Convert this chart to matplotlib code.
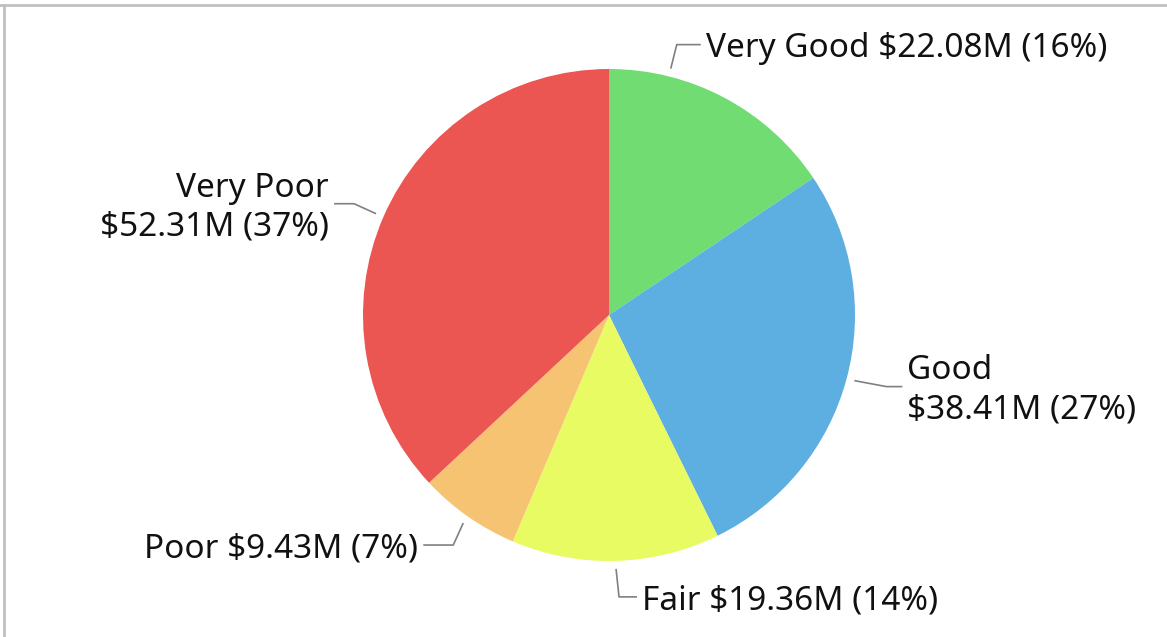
import numpy as np
import matplotlib
matplotlib.use('Agg')
import matplotlib.pyplot as plt
from matplotlib.lines import Line2D

# Data
categories = ['Very Good', 'Good', 'Fair', 'Poor', 'Very Poor']
values = [22.08, 38.41, 19.36, 9.43, 52.31]  # $M
percents = [16, 27, 14, 7, 37]
colors = ['#70dc72', '#5daee1', '#e9fb62', '#f6c373', '#eb5552']

W, H = 1167, 637
fig = plt.figure(figsize=(W / 100, H / 100), dpi=100)
ax = fig.add_axes([0, 0, 1, 1])

# pie geometry in pixels (y measured from the bottom)
cx, cy, R = 609, H - 315, 246
wedges, _ = ax.pie(values, colors=colors, startangle=90, counterclock=False,
                   center=(cx, cy), radius=R, frame=True,
                   wedgeprops=dict(linewidth=0))
ax.set_xlim(0, W)
ax.set_ylim(0, H)
ax.set_aspect('equal')
ax.axis('off')

plt.rcParams['font.family'] = ['Noto Sans', 'DejaVu Sans']
fs = 24
lc = '#808080'

# label layout: (angle offset, elbow dx, elbow dy, tail dx, format, ha)
layout = {
    'Very Good': (14, 6, 24, 24, '{c} ${v:.2f}M ({p}%)', 'left'),
    'Good': (0, 32, -6, 16, '{c}\n${v:.2f}M ({p}%)', 'left'),
    'Fair': (0, 3, -28, 18, '{c} ${v:.2f}M ({p}%)', 'left'),
    'Poor': (0, -10, -22, -30, '{c} ${v:.2f}M ({p}%)', 'right'),
    'Very Poor': (0, -22, 10, -20, '{c}\n${v:.2f}M ({p}%)', 'right'),
}

for w, c, v, p in zip(wedges, categories, values, percents):
    off, ex, ey, tx, fmt, ha = layout[c]
    ang = np.deg2rad((w.theta1 + w.theta2) / 2 + off)
    x0 = cx + (R + 8) * np.cos(ang)
    y0 = cy + (R + 8) * np.sin(ang)
    x1, y1 = x0 + ex, y0 + ey
    x2 = x1 + tx
    ax.plot([x0, x1, x2], [y0, y1, y1], color=lc, lw=1.2, solid_capstyle='butt')
    gap = 5 if ha == 'left' else -5
    # nudge text down a little so the caps sit centred on the leader
    ax.text(x2 + gap, y1 - 4, fmt.format(c=c, v=v, p=p), ha=ha, va='center',
            fontsize=fs, color='#111111', linespacing=1.25)

# light frame on top and left edges
fig.add_artist(Line2D([0, 1], [1 - 5 / H, 1 - 5 / H], color='#c0c0c0', lw=2,
                      transform=fig.transFigure))
fig.add_artist(Line2D([4 / W, 4 / W], [0, 1 - 5 / H], color='#c0c0c0', lw=2,
                      transform=fig.transFigure))

fig.savefig('out.png', dpi=100)
